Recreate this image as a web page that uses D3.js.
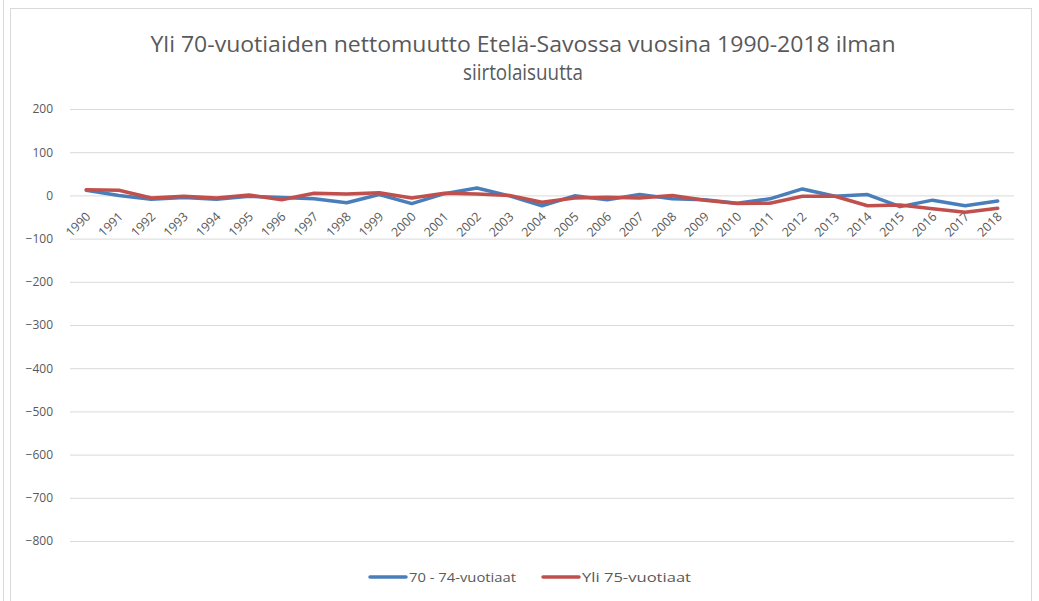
<!DOCTYPE html>
<html>
<head>
<meta charset="utf-8">
<script src="https://cdn.jsdelivr.net/npm/d3@7/dist/d3.min.js"></script>
<style>
  html, body { margin: 0; padding: 0; background: #fff; }
  svg { display: block; }
</style>
</head>
<body>
<svg id="chart" width="1039" height="601"></svg>
<script>
const years = ["1990","1991","1992","1993","1994","1995","1996","1997","1998","1999",
  "2000","2001","2002","2003","2004","2005","2006","2007","2008","2009",
  "2010","2011","2012","2013","2014","2015","2016","2017","2018"];
const series70_74 = [12, 0, -9, -5, -9, -2, -5, -8, -17, 2,
  -19, 4, 17, -1, -24, -1, -10, 2, -8, -10,
  -18, -8, 15, -2, 2, -26, -11, -24, -13];
const series75 = [13, 12, -6, -2, -6, 1, -10, 5, 3, 6,
  -6, 5, 3, 0, -16, -6, -4, -6, 0, -11,
  -19, -18, -2, -2, -24, -22, -31, -39, -30];
const yTicks = [200, 100, 0, -100, -200, -300, -400, -500, -600, -700, -800];
const seriesNames = ["70 - 74-vuotiaat", "Yli 75-vuotiaat"];
const seriesColors = ["#4a7ebb", "#c0504d"];
const titleLines = ["Yli 70-vuotiaiden nettomuutto Etelä-Savossa vuosina 1990-2018 ilman", "siirtolaisuutta"];

(function () {
const svg = d3.select("#chart");
const font = "'Open Sans', 'Liberation Sans', sans-serif";
const titleFont = "'Liberation Sans Narrow', 'Open Sans', sans-serif";
const textCol = "#595959";

// frame
svg.append("line").attr("x1", 3.5).attr("x2", 3.5).attr("y1", 0).attr("y2", 601)
  .attr("stroke", "#d9d9d9").attr("stroke-width", 1);
svg.append("rect").attr("x", 10.5).attr("y", 8.5).attr("width", 1021).attr("height", 620)
  .attr("fill", "#fff").attr("stroke", "#d9d9d9").attr("stroke-width", 1);

const pLeft = 70, pRight = 1014, pTop = 109, pBottom = 541;
const x = d3.scaleBand().domain(years).range([pLeft, pRight]);
const y = d3.scaleLinear().domain([-800, 200]).range([pBottom, pTop]);

// title
const tw = [745, 120];
const ty = [52, 80];
titleLines.forEach((t, i) => {
  svg.append("text").attr("x", 523).attr("y", ty[i]).attr("text-anchor", "middle")
    .attr("font-family", titleFont).attr("font-size", 21).attr("fill", textCol)
    .attr("textLength", tw[i]).attr("lengthAdjust", "spacingAndGlyphs").text(t);
});

// gridlines + y labels
const yAxis = d3.axisLeft(y).tickValues(yTicks).tickSize(-(pRight - pLeft)).tickPadding(17)
  .tickFormat(d3.format("d"));
const gy = svg.append("g").attr("transform", `translate(${pLeft},0)`).call(yAxis);
gy.select(".domain").remove();
gy.selectAll(".tick line").attr("stroke", "#d9d9d9").attr("stroke-width", 1);
gy.selectAll(".tick text").attr("font-family", font).attr("font-size", 12).attr("fill", textCol);

// x axis labels (rotated), hanging below the zero line
const xAxis = d3.axisBottom(x).tickSize(0).tickPadding(0);
const gx = svg.append("g").attr("transform", `translate(0,${y(0)})`).call(xAxis);
gx.select(".domain").remove();
gx.selectAll(".tick text")
  .attr("font-family", font).attr("font-size", 12.5).attr("fill", textCol)
  .attr("text-anchor", "end").attr("dy", 0).attr("y", 0)
  .attr("transform", "translate(5,22) rotate(-45)");

// lines
const line = d3.line().x((d, i) => x(years[i]) + x.bandwidth() / 2).y(d => y(d));
[series70_74, series75].forEach((s, k) => {
  svg.append("path").datum(s).attr("d", line).attr("fill", "none")
    .attr("stroke", seriesColors[k]).attr("stroke-width", 3.5)
    .attr("stroke-linejoin", "round").attr("stroke-linecap", "round");
});

// legend
const legX = [370, 543];
const legW = [107, 109];
seriesNames.forEach((n, k) => {
  const g = svg.append("g").attr("transform", `translate(${legX[k]},577)`);
  g.append("line").attr("x1", 0).attr("x2", 36).attr("y1", 0).attr("y2", 0)
    .attr("stroke", seriesColors[k]).attr("stroke-width", 3.5).attr("stroke-linecap", "round");
  g.append("text").attr("x", 39).attr("y", 4.5).attr("font-family", font).attr("font-size", 13)
    .attr("textLength", legW[k]).attr("lengthAdjust", "spacingAndGlyphs")
    .attr("fill", textCol).text(n);
});
})();
</script>
</body>
</html>
